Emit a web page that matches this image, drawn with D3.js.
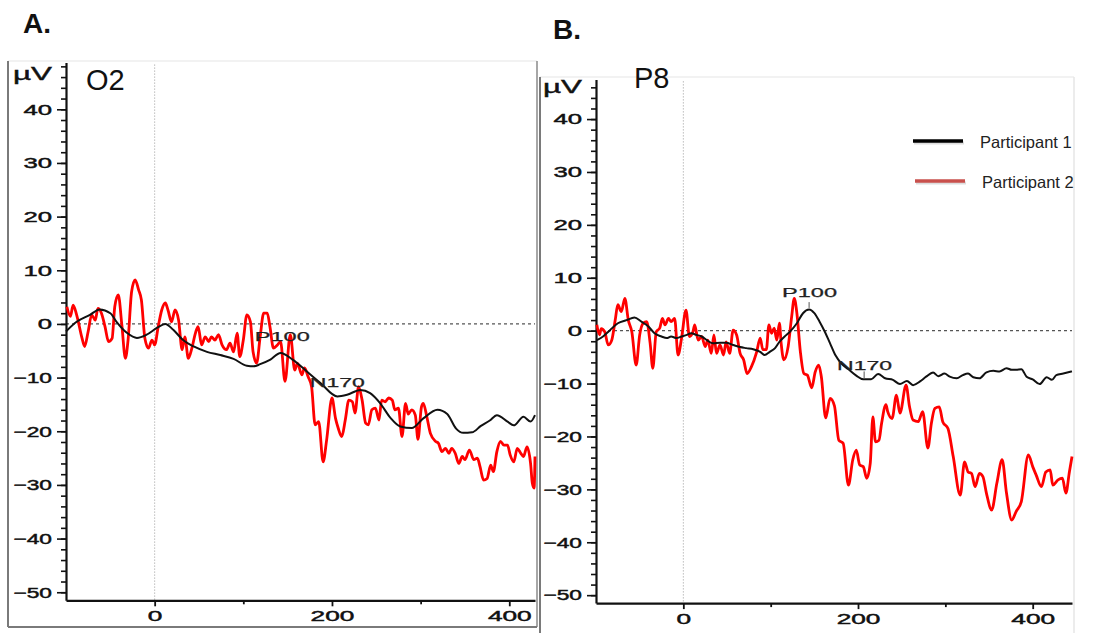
<!DOCTYPE html>
<html>
<head>
<meta charset="utf-8">
<script src="https://cdn.jsdelivr.net/npm/d3@7"></script>
<style>
  body { margin: 0; background: #fff; }
  svg text { font-family: "Liberation Sans", Arial, sans-serif; }
</style>
</head>
<body>
<svg id="chart" width="1094" height="633"></svg>
<script>
// ---- data (time in ms, amplitude in µV) ----
const xMajorTicks = [0, 200, 400];
const xMinorTicks = [100, 300];
const yMajorTicks = [40, 30, 20, 10, 0, -10, -20, -30, -40, -50];
const legendLabels = ["Participant 1", "Participant 2"];

// O2, participant 1 (black)
const o2Participant1 = [[-100,-1.4],[-88,0.4],[-73,1.7],[-62,2.7],[-50,2],[-43,0.4],[-31,-1.7],[-20,-2.6],[-9,-2],[3,-0.7],[12,0],[21,-1.1],[32,-3],[44,-4.2],[59,-5.2],[74,-5.8],[89,-6.5],[104,-7.8],[112,-7.9],[119,-7.5],[130,-6.7],[142,-5.4],[156,-6.7],[172,-8.9],[187,-11],[206,-13.5],[217,-13.2],[232,-12.3],[243,-12.9],[254,-14.7],[266,-17.5],[277,-19.1],[290,-19.4],[303,-17.6],[319,-16],[330,-16.8],[340,-19.5],[348,-20.3],[358,-20.2],[368,-19],[378,-18],[386,-17],[398,-18.2],[405,-18.9],[416,-17.3],[424,-18.2],[429,-17]];

// O2, participant 2 (red)
const o2Participant2 = [[-99,3.2],[-95,1.4],[-92,3.5],[-88,1.7],[-82,-2.6],[-79,-4.2],[-75,-1.4],[-71,1.7],[-67,0.7],[-64,2.9],[-60,2],[-56,-0.5],[-52,-3.3],[-48,-2.7],[-45,3.2],[-41,5.4],[-37,-0.2],[-33,-6.4],[-30,-3],[-26,6],[-22,8.2],[-18,6.3],[-15,4.5],[-11,-2.7],[-7,-4.5],[-3,-3],[0,-3.9],[4,-0.5],[8,2.6],[12,3.9],[15,2.6],[19,0.4],[23,2.6],[27,0.7],[31,-4.8],[34,-2.4],[38,-6.4],[42,-4.5],[46,-1.7],[49,-0.5],[53,-3.9],[57,-2.4],[61,-3.3],[64,-2.4],[68,-3],[72,-2],[76,-3.9],[81,-4.8],[85,-3.6],[89,-5.2],[93,-1.7],[96,-6.1],[100,-3],[104,1.7],[108,0.4],[111,-5.2],[115,-7.3],[119,-2.4],[123,2],[127,2],[130,-0.5],[134,-4.5],[138,-4],[142,-3.3],[147,-10.7],[153,-2],[158,-8.6],[161,-7.3],[166,-9.5],[169,-8.2],[173,-9.8],[177,-11.7],[181,-18.8],[185,-18.2],[190,-25.7],[194,-21.6],[200,-13.8],[204,-17.6],[207,-19.4],[211,-21],[215,-17.9],[219,-14.2],[223,-14.5],[226,-16.6],[230,-11.7],[234,-14.2],[238,-18.5],[241,-18.8],[245,-16],[249,-15.7],[253,-17.9],[256,-14.2],[260,-14.5],[264,-13.8],[268,-14.2],[271,-16],[275,-15.7],[279,-21],[283,-14.8],[286,-16.8],[290,-16],[294,-17],[297,-21.5],[301,-15.4],[303,-14.8],[307,-17.3],[311,-20.4],[317,-21.9],[320,-22.2],[324,-23.8],[328,-23.2],[332,-24.1],[335,-23.2],[339,-24.1],[343,-26],[347,-24.7],[350,-25.3],[355,-23.5],[360,-25.3],[364,-25],[367,-26.6],[371,-29.1],[375,-28.8],[379,-26.3],[382,-27.5],[386,-23.8],[390,-21.9],[394,-22.6],[398,-22.6],[401,-24.4],[405,-25.7],[409,-23.2],[413,-24.1],[416,-24.7],[420,-22.9],[424,-26],[426,-29.7],[428,-30.6],[429,-24.7]];

// P8, participant 1 (black)
const p8Participant1 = [[-99,-1.8],[-92,-1.1],[-84,0.1],[-75,1.4],[-65,2],[-56,2.5],[-48,1.7],[-40,0.8],[-33,-0.5],[-25,-1.1],[-19,-1.4],[-14,-1.1],[-8,-1.4],[-2,-1.1],[4,-0.8],[9,-0.5],[15,-0.8],[21,-1.1],[27,-1.8],[34,-2.4],[42,-2.3],[49,-2.3],[57,-2.7],[65,-3.1],[72,-3.3],[80,-3.5],[88,-4],[93,-4.6],[99,-4],[105,-3.3],[110,-2.1],[116,-1.1],[122,-0.2],[130,1.4],[137,3.3],[144,4],[150,3.3],[156,1.7],[162,-0.2],[168,-2.4],[174,-4.6],[181,-6.2],[189,-7.3],[198,-8.5],[206,-9.2],[215,-9.2],[223,-8.2],[231,-9],[240,-9.3],[248,-10.1],[256,-9.5],[263,-10.3],[271,-9.6],[278,-8.7],[286,-7.9],[292,-8.6],[299,-8.1],[305,-8.7],[313,-9],[320,-8.4],[326,-8.1],[332,-8.8],[339,-9],[347,-7.9],[355,-7.6],[362,-7.7],[370,-7.1],[376,-7.4],[381,-7.4],[387,-7.3],[393,-8.7],[400,-9.2],[408,-10.1],[416,-8.8],[422,-9.3],[427,-8.4],[435,-8.1],[445,-7.7]];

// P8, participant 2 (red)
const p8Participant2 = [[-99,1.1],[-96,-0.8],[-94,0.4],[-90,-0.2],[-86,-2.7],[-82,-1.8],[-78,2],[-75,4.9],[-71,3.6],[-67,6.1],[-63,2],[-59,-0.2],[-54,-6.5],[-50,-0.8],[-46,1.4],[-42,1.7],[-38,-2.4],[-35,-7.1],[-31,-0.2],[-27,0.5],[-24,2.3],[-21,1.1],[-17,2.3],[-14,1.7],[-10,2.3],[-6,-4.6],[-2,-1.4],[3,3.9],[7,-1.1],[11,-0.2],[13,1.1],[17,-1.8],[21,-1.1],[25,-3],[28,-1.8],[32,-4.3],[35,-0.8],[38,-4.3],[42,-2.7],[46,-4.6],[49,-2.1],[53,-4.3],[57,0.1],[61,-0.8],[65,-4.3],[69,-5.5],[73,-8.1],[78,-6.8],[84,-4],[88,-1.4],[91,-3.6],[95,-3.6],[98,1.1],[101,-0.5],[104,0.5],[107,-1.8],[110,1.4],[112,-2.4],[115,-5.5],[120,-3],[124,2.6],[127,6.1],[130,3.3],[134,-4],[138,-8.1],[142,-8.4],[147,-10.8],[151,-7.8],[155,-6.5],[158,-8.7],[163,-16.5],[168,-12.8],[173,-14.2],[178,-20.7],[183,-21.3],[189,-29.2],[194,-24.4],[198,-22.6],[202,-25.4],[206,-25.7],[210,-27.9],[214,-25.1],[217,-16.3],[220,-21],[224,-20.7],[227,-17.5],[232,-14],[234,-15.3],[239,-16.6],[244,-12.2],[248,-15.6],[255,-10.3],[259,-14.4],[263,-16.9],[269,-17.2],[274,-15.3],[280,-22.2],[284,-17.5],[288,-14.7],[293,-14.4],[297,-17.2],[303,-18.5],[309,-23.8],[317,-31.1],[322,-24.8],[326,-26.7],[330,-27],[334,-29.5],[339,-27],[343,-27.6],[347,-30.7],[353,-33.9],[359,-28.8],[365,-24.4],[370,-30.7],[376,-35.8],[381,-34.2],[387,-32.3],[395,-23.5],[400,-25.7],[404,-27.3],[410,-29.5],[415,-26.7],[420,-26.3],[423,-29.2],[429,-28.2],[434,-27.9],[438,-30.7],[442,-26.7],[445,-23.8]];

// component labels: name, time and amplitude where the label starts
const o2Peaks = [{ name: "P100", t: 113, v: -3.2 }, { name: "N170", t: 175, v: -11.7 }];
const p8Peaks = [{ name: "P100", t: 113, v: 6.4, markT: 144, markV: [5.4, 4.3] },
                 { name: "N170", t: 176, v: -7.4, markT: 207, markV: [-7.7, -9.1] }];

const svg = d3.select("#chart");
const font = '"Liberation Sans", Arial, sans-serif';

// stretched, slightly heavy text like the exported figure
function stretchText(sel, size, perChar) {
  sel.attr("font-size", size).attr("fill", "#111")
    .attr("stroke", "#111").attr("stroke-width", 0.45)
    .attr("lengthAdjust", "spacingAndGlyphs")
    .attr("textLength", function () {
      const s = d3.select(this).text();
      let w = 0;
      for (const c of s) w += (c === "-" || c === "−") ? perChar * 0.7 : perChar;
      return w;
    });
}

function drawPanel(p) {
  const g = svg.append("g");

  // frame
  g.append("line").attr("x1", p.frame[0]).attr("x2", p.frame[2]).attr("y1", p.frame[1]).attr("y2", p.frame[1])
    .attr("stroke", "#e6e6e6").attr("stroke-width", 1.2);
  g.append("line").attr("x1", p.frame[2]).attr("x2", p.frame[2]).attr("y1", p.frame[1]).attr("y2", p.frame[3])
    .attr("stroke", p.rightColor).attr("stroke-width", 1.5);
  g.append("line").attr("x1", p.frame[0]).attr("x2", p.frame[0]).attr("y1", p.frame[1]).attr("y2", p.frame[3])
    .attr("stroke", "#7a7a7a").attr("stroke-width", 2);
  g.append("line").attr("x1", p.frame[0]).attr("x2", p.frame[2]).attr("y1", p.frame[3]).attr("y2", p.frame[3])
    .attr("stroke", "#7a7a7a").attr("stroke-width", 2);

  const x = d3.scaleLinear().domain(p.xDomain).range(p.xRange);
  const y = d3.scaleLinear().domain(p.yDomain).range(p.yRange);

  // reference lines
  g.append("line").attr("x1", x(0)).attr("x2", x(0)).attr("y1", p.yRange[1] + 2).attr("y2", p.yRange[0])
    .attr("stroke", "#999").attr("stroke-width", 1).attr("stroke-dasharray", "1,2");
  g.append("line").attr("x1", p.xRange[0]).attr("x2", p.xRange[1]).attr("y1", y(0)).attr("y2", y(0))
    .attr("stroke", "#555").attr("stroke-width", 1.2).attr("stroke-dasharray", "3,3");

  // y axis: minor ticks every 2 µV, major every 10 µV
  const minorY = d3.range(-50, p.yDomain[1], 2);
  g.append("g").attr("transform", `translate(${p.xRange[0]},0)`)
    .call(d3.axisLeft(y).tickValues(minorY).tickSize(5).tickSizeOuter(0).tickFormat(""))
    .call(a => a.select(".domain").attr("stroke-width", 2.2).attr("stroke", "#111"))
    .call(a => a.selectAll(".tick line").attr("stroke-width", 1.6).attr("stroke", "#111"));
  g.append("g").attr("transform", `translate(${p.xRange[0]},0)`)
    .call(d3.axisLeft(y).tickValues(yMajorTicks).tickSize(9).tickPadding(5).tickSizeOuter(0))
    .call(a => a.select(".domain").remove())
    .call(a => a.selectAll(".tick line").attr("stroke-width", 1.6).attr("stroke", "#111"))
    .call(a => a.selectAll("text").attr("font-family", font).call(stretchText, 15, 14.3));

  // x axis
  g.append("g").attr("transform", `translate(0,${p.yRange[0]})`)
    .call(d3.axisBottom(x).tickValues(xMinorTicks).tickSize(4).tickSizeOuter(0).tickFormat(""))
    .call(a => a.select(".domain").attr("stroke-width", 2.2).attr("stroke", "#111"))
    .call(a => a.selectAll(".tick line").attr("stroke-width", 1.8).attr("stroke", "#111"));
  g.append("g").attr("transform", `translate(0,${p.yRange[0]})`)
    .call(d3.axisBottom(x).tickValues(xMajorTicks).tickSize(6).tickPadding(4).tickSizeOuter(0))
    .call(a => a.select(".domain").remove())
    .call(a => a.selectAll(".tick line").attr("stroke-width", 1.8).attr("stroke", "#111"))
    .call(a => a.selectAll("text").attr("font-family", font).call(stretchText, 15, 14.6));

  // unit and channel labels
  g.append("text").attr("x", p.uv[0]).attr("y", p.uv[1]).text("µV")
    .attr("font-family", font).attr("font-size", 19).attr("fill", "#111")
    .attr("stroke", "#111").attr("stroke-width", 0.4)
    .attr("textLength", 39).attr("lengthAdjust", "spacingAndGlyphs");
  g.append("text").attr("x", p.channelPos[0]).attr("y", p.channelPos[1]).text(p.channel)
    .attr("font-family", font).attr("font-size", 29).attr("fill", "#111");

  // panel title
  svg.append("text").attr("x", p.titlePos[0]).attr("y", p.titlePos[1]).text(p.title)
    .attr("font-family", font).attr("font-size", 28).attr("font-weight", "bold").attr("fill", "#111");

  // waveforms
  const line = d3.line().x(d => x(d[0])).y(d => y(d[1])).curve(d3.curveMonotoneX);
  g.append("path").datum(p.p2).attr("d", line).attr("fill", "none")
    .attr("stroke", "#ff0000").attr("stroke-width", 2.8).attr("stroke-linejoin", "round");
  g.append("path").datum(p.p1).attr("d", line).attr("fill", "none")
    .attr("stroke", "#111").attr("stroke-width", 2).attr("stroke-linejoin", "round");

  // component labels
  p.peaks.forEach(pk => {
    g.append("text").attr("x", x(pk.t)).attr("y", y(pk.v)).text(pk.name)
      .attr("font-family", font).attr("font-size", 13).attr("fill", "#222")
      .attr("stroke", "#222").attr("stroke-width", 0.25)
      .attr("textLength", 55).attr("lengthAdjust", "spacingAndGlyphs");
    if (pk.markT !== undefined) {
      g.append("line").attr("x1", x(pk.markT)).attr("x2", x(pk.markT))
        .attr("y1", y(pk.markV[0])).attr("y2", y(pk.markV[1]))
        .attr("stroke", "#555").attr("stroke-width", 1);
    }
  });
}

drawPanel({
  frame: [8, 61, 537, 627], rightColor: "#8a8a8a",
  xDomain: [-100, 429], xRange: [66, 535],
  yDomain: [-51.5, 48.7], yRange: [600.3, 62.6],
  title: "A.", titlePos: [23, 33],
  channel: "O2", channelPos: [86, 90], uv: [13, 80],
  p1: o2Participant1, p2: o2Participant2, peaks: o2Peaks
});

drawPanel({
  frame: [540, 77, 1074, 640], rightColor: "#e6e6e6",
  xDomain: [-100, 445], xRange: [596, 1072],
  yDomain: [-51.5, 47.5], yRange: [603.1, 79.4],
  title: "B.", titlePos: [553, 39],
  channel: "P8", channelPos: [634, 88], uv: [543, 93],
  p1: p8Participant1, p2: p8Participant2, peaks: p8Peaks
});

// legend
const legendColors = ["#000", "#c9504c"];
const legend = svg.append("g");
legendLabels.forEach((lab, i) => {
  const ly = [141, 181][i];
  const lx = [913, 915][i];
  legend.append("line").attr("x1", lx + 1).attr("x2", lx + 51).attr("y1", ly + 2).attr("y2", ly + 2)
    .attr("stroke", "#ddd").attr("stroke-width", 3);
  legend.append("line").attr("x1", lx).attr("x2", lx + 50).attr("y1", ly).attr("y2", ly)
    .attr("stroke", legendColors[i]).attr("stroke-width", 3.5);
  legend.append("text").attr("x", [980, 982][i]).attr("y", ly + 7).text(lab)
    .attr("font-family", font).attr("font-size", 16.5).attr("fill", "#222");
});
</script>
</body>
</html>
